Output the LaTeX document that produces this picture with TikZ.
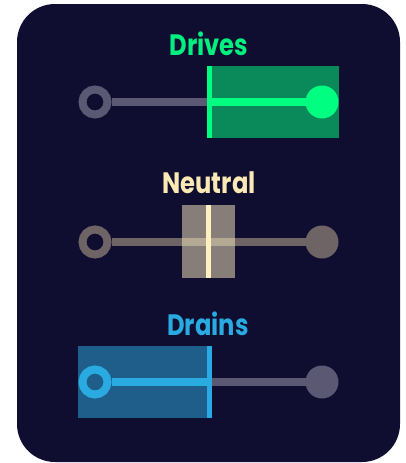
\documentclass[tikz,border=0pt]{standalone}
\usepackage{fontspec}
\newfontfamily\headfont{Poppins}[FakeStretch=0.82]
\definecolor{panel}{HTML}{0F0E30}
\definecolor{idle}{HTML}{5A5872}
\definecolor{drvtext}{HTML}{00F080}
\definecolor{drvbright}{HTML}{00FF80}
\definecolor{drvfill}{HTML}{0A8A5A}
\definecolor{neutext}{HTML}{FBE9B5}
\definecolor{neuline}{HTML}{6E6466}
\definecolor{neufill}{HTML}{877E79}
\definecolor{neuband}{HTML}{B4AA93}
\definecolor{neubar}{HTML}{FFF0C0}
\definecolor{drntext}{HTML}{29ABE2}
\definecolor{drnfill}{HTML}{1F5E8A}
\tikzset{
  title/.style={font=\headfont\bfseries\fontsize{29.5}{29.5}\selectfont, anchor=base, inner sep=0pt},
  ring/.style={circle, draw=#1, line width=8pt, minimum size=25pt, inner sep=0pt},
  dot/.style={circle, fill=#1, minimum size=33pt, inner sep=0pt},
  track/.style={line width=8pt, draw=#1},
  bar/.style={fill=#1, draw=none},
}
\begin{document}
\begin{tikzpicture}[x=1pt,y=-1pt]
\useasboundingbox (0,0) rectangle (406,463);
% panel
\fill[panel, rounded corners=38pt] (17,4) rectangle (400,462);

% ---- Drives ----
\node[title, text=drvtext] (tdrives) at (209,55) {Drives};
\fill[drvfill] (207,66) rectangle (339,138);
\node[ring=idle, fill=panel] (dl) at (95,102) {};
\coordinate (dsplit) at (209.5,102);
\node[dot=drvbright] (dr) at (322,102) {};
\draw[track=idle] (dl.east) -- (dsplit);
\draw[track=drvbright] (dsplit) -- (dr.center);
\node[bar=drvbright, minimum width=5pt, minimum height=72pt, inner sep=0pt] (dbar) at (209.5,102) {};

% ---- Neutral ----
\node[title, text=neutext] (tneutral) at (209,193) {Neutral};
\node[ring=neuline, fill=panel] (nl) at (95,242) {};
\node[dot=neuline] (nr) at (322,242) {};
\draw[track=neuline] (nl.east) -- (nr.center);
\node[fill=neufill, minimum width=53pt, minimum height=73pt, inner sep=0pt] (nbox) at (208.5,241.5) {};
\fill[neuband] (nbox.west |- 0,238) rectangle (nbox.east |- 0,246);
\node[bar=neubar, minimum width=5pt, minimum height=73pt, inner sep=0pt] (nbar) at (208.5,241.5) {};

% ---- Drains ----
\node[title, text=drntext] (tdrains) at (208,335) {Drains};
\fill[drnfill] (78,346) rectangle (212,418);
\node[ring=drntext, fill=drnfill] (bl) at (95,382) {};
\coordinate (bsplit) at (209.5,382);
\node[dot=idle] (br) at (322,382) {};
\draw[track=idle] (bsplit) -- (br.center);
\draw[track=drntext] (bl.east) -- (bsplit);
\node[bar=drntext, minimum width=5pt, minimum height=72pt, inner sep=0pt] (bbar) at (209.5,382) {};
\end{tikzpicture}
\end{document}
